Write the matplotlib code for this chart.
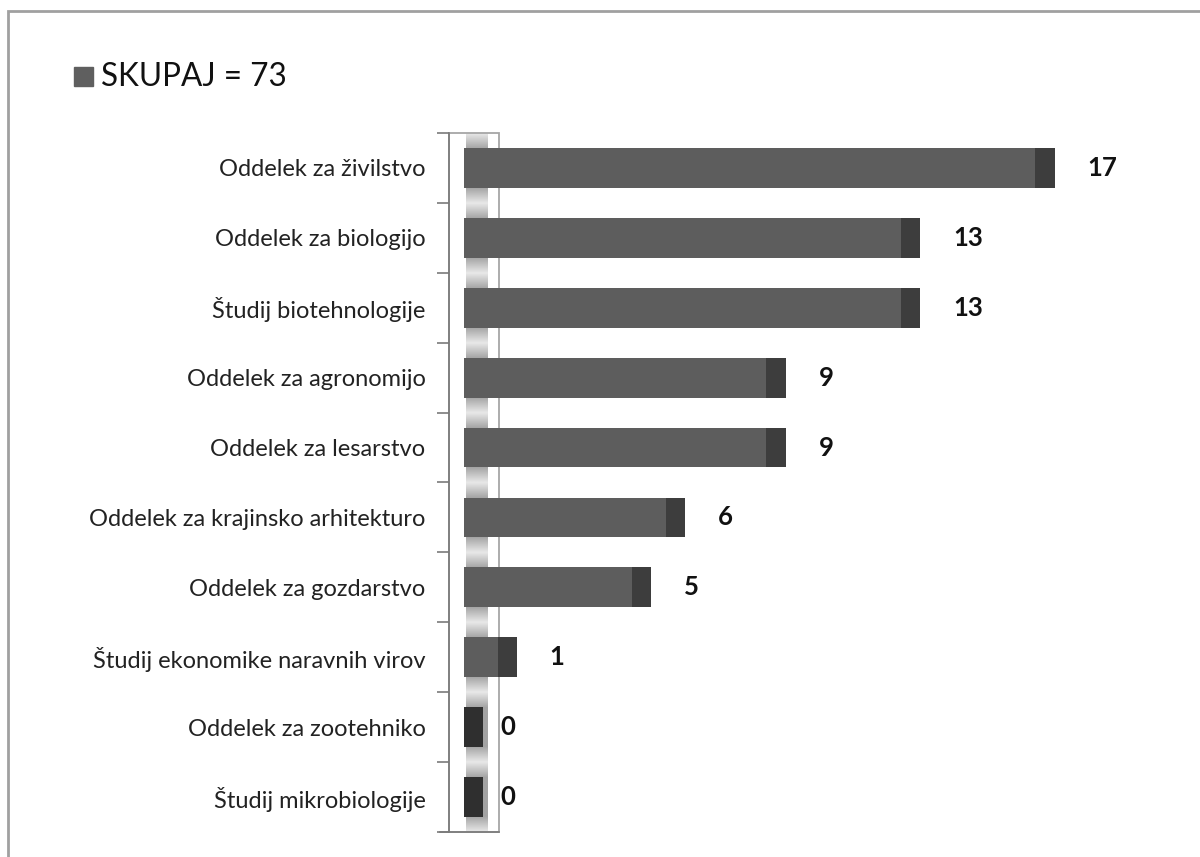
import numpy as np
import matplotlib.pyplot as plt
from matplotlib.patches import Rectangle

plt.rcParams['font.family'] = ['Lato', 'DejaVu Sans']

# =========================
# DATA
# =========================

categories = [
    "Oddelek za živilstvo",
    "Oddelek za biologijo",
    "Študij biotehnologije",
    "Oddelek za agronomijo",
    "Oddelek za lesarstvo",
    "Oddelek za krajinsko arhitekturo",
    "Oddelek za gozdarstvo",
    "Študij ekonomike naravnih virov",
    "Oddelek za zootehniko",
    "Študij mikrobiologije",
]
values = [17, 13, 13, 9, 9, 6, 5, 1, 0, 0]
legend_label = "SKUPAJ = 73"

# =========================
# FIGURE
# =========================

W, H = 1200, 857
fig = plt.figure(figsize=(12, 8.57), dpi=100)

# plot area in pixels: left axis at x=449, top 133, bottom 832
ax = fig.add_axes([449 / W, (H - 832) / H, (1190 - 449) / W, 699 / H])

px = 33.6            # pixels per unit
x0 = -(464 - 449) / px
ax.set_xlim(x0, x0 + (1190 - 449) / px)
ax.set_ylim(len(categories) - 0.5, -0.5)

ypos = np.arange(len(categories))
bar_h = 0.57
cap = 0.58

# 3D "wall" stripe behind the bars
yy = np.linspace(-0.5, len(categories) - 0.5, 1400)
frac = (yy + 0.5) % 1.0
d = np.minimum(frac, 1 - frac)
shade = 0.91 - 0.27 * np.clip(d / 0.22, 0, 1)
img = np.tile(shade[:, None], (1, 20))
ax.imshow(img, cmap='gray', vmin=0, vmax=1, aspect='auto',
          extent=[0.06, 0.71, len(categories) - 0.5, -0.5],
          interpolation='bilinear', zorder=1)

# wall box
wall_r = (499 - 464) / px
ax.add_patch(Rectangle((x0, -0.5), wall_r - x0, len(categories),
                       fill=False, edgecolor='#a6a6a6', linewidth=1.3,
                       zorder=1.5, clip_on=False))

# bars: front face + darker end cap
for y, v in zip(ypos, values):
    if v > 0:
        ax.barh(y, v, height=bar_h, left=0, color='#5d5d5d', zorder=2)
        ax.barh(y, cap, height=bar_h, left=v, color='#3d3d3d', zorder=2)
        tx = v + 1.55
    else:
        ax.barh(y, cap, height=bar_h, left=0, color='#2f2f2f', zorder=2)
        tx = 1.07
    ax.text(tx, y, str(v), ha='left', va='center', fontsize=18.5,
            fontweight='bold', color='#111111')

# axes styling
for s in ['top', 'right', 'bottom']:
    ax.spines[s].set_visible(False)
ax.spines['left'].set_color('#7a7a7a')
ax.spines['left'].set_linewidth(1.2)
ax.set_xticks([])
ax.set_yticks(ypos)
ax.set_yticklabels(categories, fontsize=17, color='#222222')
ax.tick_params(axis='y', which='major', length=0, pad=17)
ax.set_yticks(np.arange(-0.5, len(categories)), minor=True)
ax.tick_params(axis='y', which='minor', length=9, color='#7a7a7a', width=1.2)

# bottom line
ax.plot([x0 - 9 / px, wall_r], [len(categories) - 0.5] * 2,
        color='#7a7a7a', linewidth=1.2, clip_on=False, zorder=3)

# legend
fig.add_artist(Rectangle((74 / W, 1 - 86 / H), 19 / W, 19 / H,
                         transform=fig.transFigure, color='#5f5f5f'))
fig.text(101 / W, 1 - 77 / H, legend_label, fontsize=22.7,
         va='center', ha='left', color='#111111')

# chart border
fig.add_artist(Rectangle((8 / W, -0.1), 1.2, 1.1 - 11 / H,
                         transform=fig.transFigure, fill=False,
                         edgecolor='#a0a0a0', linewidth=2))

fig.savefig('out.png', dpi=100)
